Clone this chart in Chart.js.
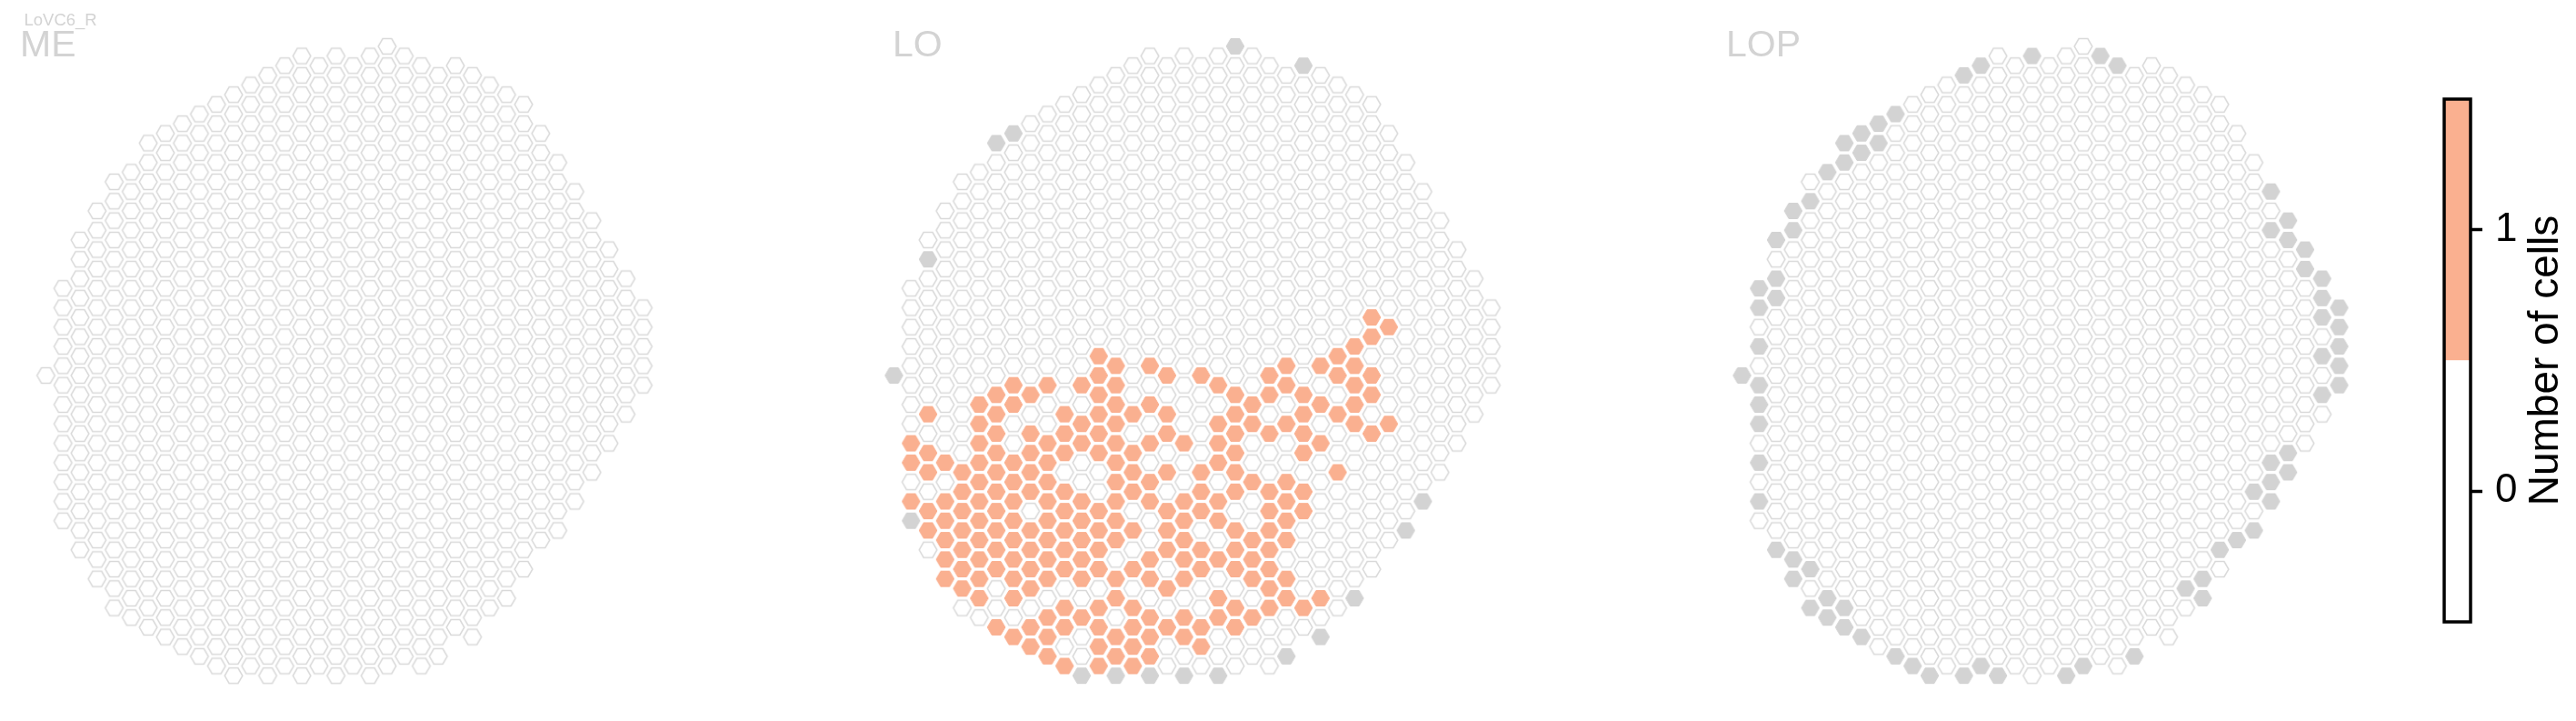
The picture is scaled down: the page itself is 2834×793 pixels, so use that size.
<!DOCTYPE html>
<html>
<head>
<meta charset="utf-8">
<script src="https://cdn.jsdelivr.net/npm/chart.js@4/dist/chart.umd.min.js"></script>
<style>
  html, body { margin: 0; padding: 0; background: #fff; }
  body { width: 2834px; height: 793px; position: relative; overflow: hidden; }
  canvas { position: absolute; top: 0; }
</style>
</head>
<body>
<canvas id="me" width="720" height="793" style="left:0px"></canvas>
<canvas id="lo" width="720" height="793" style="left:933px"></canvas>
<canvas id="lop" width="720" height="793" style="left:1866px"></canvas>
<canvas id="cbar" width="234" height="793" style="left:2600px"></canvas>
<script>
// hex eye map: first / last row (half steps) of every column
const colTop = [0, -9, -14, -17, -20, -21, -24, -25, -26, -27, -28, -29, -30, -31, -32, -33, -32, -33,
                -32, -33, -34, -33, -32, -31, -32, -31, -30, -29, -28, -25, -22, -19, -16, -13, -10, -7];
const colBottom = [0, 15, 18, 21, 24, 25, 26, 27, 28, 29, 30, 31, 30, 31, 30, 31, 30, 31,
                   30, 31, 30, 29, 30, 29, 26, 27, 24, 23, 20, 17, 16, 13, 10, 7, 4, 1];

// LO: rows with 1 cell, listed per column
const loOrange = [
  [],
  [7, 9, 13],
  [4, 8, 10, 14, 16],
  [9, 13, 15, 17, 19, 21],
  [10, 12, 14, 16, 18, 20, 22],
  [3, 5, 7, 9, 11, 13, 15, 17, 19, 21, 23],
  [2, 4, 6, 8, 10, 12, 14, 16, 18, 20, 26],
  [1, 3, 9, 11, 13, 15, 17, 19, 21, 23, 27],
  [2, 6, 8, 10, 12, 16, 18, 20, 22, 26, 28],
  [1, 7, 9, 11, 13, 15, 17, 19, 21, 25, 27, 29],
  [4, 6, 8, 12, 14, 16, 18, 20, 24, 26, 30],
  [1, 5, 7, 13, 15, 17, 19, 21, 25],
  [-2, 0, 2, 4, 6, 8, 14, 16, 18, 20, 24, 26, 28, 30],
  [-1, 1, 3, 5, 7, 9, 11, 13, 15, 17, 21, 23, 27, 29],
  [4, 8, 10, 12, 16, 20, 24, 26, 28, 30],
  [-1, 3, 7, 11, 13, 19, 21, 25, 27, 29],
  [0, 4, 6, 10, 14, 16, 18, 22, 26],
  [7, 13, 15, 17, 19, 21, 25, 27],
  [0, 10, 12, 14, 18, 20, 26, 28],
  [1, 5, 7, 9, 13, 15, 19, 23, 25],
  [2, 4, 6, 8, 10, 12, 16, 18, 20, 24, 26],
  [3, 5, 11, 17, 19, 21, 25],
  [0, 2, 6, 12, 14, 16, 18, 20, 22, 24],
  [-1, 1, 5, 11, 13, 15, 17, 21, 23],
  [2, 4, 6, 8, 12, 14, 24],
  [-1, 3, 7, 23],
  [-2, 0, 4, 10],
  [-3, -1, 1, 3, 5],
  [-6, -4, 0, 2, 6],
  [-5, 5],
  [], [], [], [], [], []
];

// columns without data (grey), [column, row]
const loGrey = [[20, -34], [24, -32], [6, -24], [7, -25], [2, -12], [0, 0], [1, 15],
  [11, 31], [13, 31], [15, 31], [17, 31], [19, 31], [23, 29], [25, 27], [27, 23], [30, 16], [31, 13]];
const lopGrey = [[13, -31], [14, -32], [17, -33], [21, -33], [22, -32],
  [9, -27], [8, -26], [7, -25], [8, -24], [6, -24], [7, -23], [6, -22], [5, -21], [4, -18], [3, -17],
  [3, -15], [2, -14], [2, -10], [1, -9], [2, -8], [1, -7], [1, -3], [0, 0], [1, 1], [1, 3], [1, 5],
  [1, 9], [1, 13], [2, 18], [3, 19], [3, 21], [4, 20], [4, 24], [5, 23], [5, 25], [6, 24], [6, 26],
  [7, 27], [9, 29], [10, 30], [11, 31], [13, 31], [14, 30], [15, 31], [19, 31], [20, 30], [23, 29],
  [26, 22], [27, 21], [27, 23], [28, 18], [29, 17], [30, 16], [30, 12], [31, 13], [31, 11], [31, 9],
  [32, 10], [32, 8], [31, -19], [32, -16], [31, -15], [32, -14], [33, -13], [33, -11], [34, -10],
  [34, -8], [35, -7], [34, -6], [35, -5], [35, -3], [34, -2], [35, -1], [35, 1], [34, 2]];

const cbarTicks = [0, 1];
const cbarLabel = 'Number of cells';

const ORANGE = 'rgb(250,176,144)';
const GREY = '#d3d3d3';
const COL_W = 18.77, ROW_H = 10.65, X0 = 50.5, Y0 = 413, W = 720, H = 793;

Chart.defaults.font.family = '"Liberation Sans", Arial, sans-serif';

function hexImage(fill, stroke, lw) {
  const R = 9.8;
  const c = document.createElement('canvas');
  c.width = 24; c.height = 22;
  const g = c.getContext('2d');
  g.beginPath();
  for (let i = 0; i < 6; i++) {
    const a = Math.PI / 3 * i;
    const px = 12 + R * Math.cos(a), py = 11 + R * Math.sin(a);
    if (i) g.lineTo(px, py); else g.moveTo(px, py);
  }
  g.closePath();
  g.fillStyle = fill;
  g.fill();
  g.strokeStyle = stroke;
  g.lineWidth = lw;
  g.stroke();
  return c;
}
const hexWhite = hexImage('#ffffff', '#d9d9d9', 1.5);
const hexOrange = hexImage(ORANGE, ORANGE, 1);
const hexGrey = hexImage(GREY, GREY, 1);

function panelCells(orange, grey) {
  const greySet = new Set(grey.map(p => p[0] + ',' + p[1]));
  const out = {white: [], orange: [], grey: []};
  colTop.forEach((top, c) => {
    for (let k = top; k <= colBottom[c]; k += 2) {
      if (greySet.has(c + ',' + k)) out.grey.push({x: c, y: k});
      else if (orange[c] && orange[c].includes(k)) out.orange.push({x: c, y: k});
      else out.white.push({x: c, y: k});
    }
  });
  return out;
}

function panelChart(id, cells, titles) {
  const titlePlugin = {
    id: 'panelTitle',
    afterDraw(chart) {
      const ctx = chart.ctx;
      ctx.save();
      ctx.fillStyle = '#d3d3d3';
      ctx.textBaseline = 'alphabetic';
      titles.forEach(t => {
        ctx.font = t.size + 'px "Liberation Sans", Arial, sans-serif';
        ctx.fillText(t.text, t.x, t.y);
      });
      ctx.restore();
    }
  };
  const ds = (data, img) => ({data, pointStyle: img, pointRadius: 10, pointHoverRadius: 10, clip: false});
  return new Chart(document.getElementById(id), {
    type: 'scatter',
    data: {datasets: [ds(cells.white, hexWhite), ds(cells.orange, hexOrange), ds(cells.grey, hexGrey)]},
    options: {
      responsive: false,
      animation: false,
      devicePixelRatio: 1,
      events: [],
      layout: {padding: 0, autoPadding: false},
      plugins: {legend: {display: false}, tooltip: {enabled: false}},
      scales: {
        x: {type: 'linear', display: false, min: -X0 / COL_W, max: (W - X0) / COL_W},
        y: {type: 'linear', display: false, reverse: true, min: -Y0 / ROW_H, max: (H - Y0) / ROW_H}
      }
    },
    plugins: [titlePlugin]
  });
}

panelChart('me', panelCells([], []), [
  {text: 'LoVC6_R', size: 18.5, x: 26.5, y: 28},
  {text: 'ME', size: 41, x: 22, y: 62}
]);
panelChart('lo', panelCells(loOrange, loGrey), [{text: 'LO', size: 41, x: 49, y: 62}]);
panelChart('lop', panelCells([], lopGrey), [{text: 'LOP', size: 41, x: 33, y: 62}]);

// colour bar
const cbarDecor = {
  id: 'cbarDecor',
  afterDatasetsDraw(chart) {
    const a = chart.chartArea, ctx = chart.ctx;
    ctx.save();
    ctx.strokeStyle = '#000';
    ctx.lineWidth = 3.5;
    ctx.strokeRect(a.left, a.top, a.right - a.left, a.bottom - a.top);
    ctx.restore();
  },
  afterDraw(chart) {
    const a = chart.chartArea, ctx = chart.ctx;
    ctx.save();
    ctx.translate(201, (a.top + a.bottom) / 2);
    ctx.rotate(-Math.PI / 2);
    ctx.fillStyle = '#000';
    ctx.font = '46px "Liberation Sans", Arial, sans-serif';
    ctx.textAlign = 'center';
    ctx.textBaseline = 'middle';
    ctx.fillText(cbarLabel, 0, 0);
    ctx.restore();
  }
};

new Chart(document.getElementById('cbar'), {
  type: 'bar',
  data: {
    labels: ['cells'],
    datasets: [
      {data: [[-0.5, 0.5]], backgroundColor: '#ffffff', grouped: false, barPercentage: 1, categoryPercentage: 1},
      {data: [[0.5, 1.5]], backgroundColor: ORANGE, grouped: false, barPercentage: 1, categoryPercentage: 1}
    ]
  },
  options: {
    responsive: false,
    animation: false,
    devicePixelRatio: 1,
    events: [],
    layout: {padding: {left: 89, top: 109, bottom: 109, right: 0}, autoPadding: false},
    plugins: {legend: {display: false}, tooltip: {enabled: false}},
    scales: {
      x: {display: false},
      y: {
        position: 'right',
        min: -0.5,
        max: 1.5,
        afterBuildTicks: s => { s.ticks = cbarTicks.map(v => ({value: v})); },
        afterFit: s => { s.width = 116; },
        grid: {drawOnChartArea: false, drawTicks: true, tickLength: 13, tickWidth: 3.5, tickColor: '#000'},
        border: {display: false},
        ticks: {color: '#000', font: {size: 44}, padding: 14}
      }
    }
  },
  plugins: [cbarDecor]
});
</script>
</body>
</html>
